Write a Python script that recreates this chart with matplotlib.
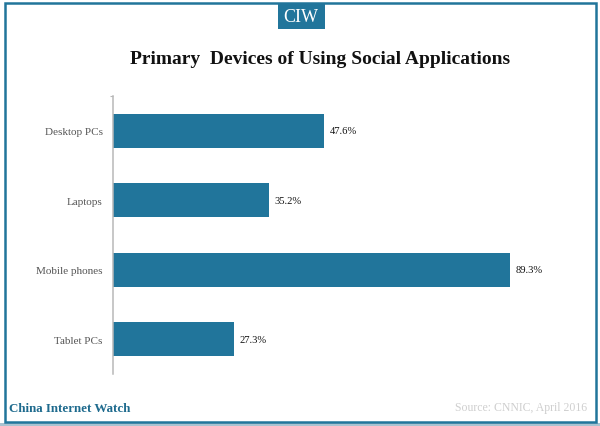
import matplotlib
matplotlib.use("Agg")
import matplotlib.pyplot as plt
from matplotlib.patches import Rectangle

categories = ["Desktop PCs", "Laptops", "Mobile phones", "Tablet PCs"]
values = [47.6, 35.2, 89.3, 27.3]
labels = ["47.6%", "35.2%", "89.3%", "27.3%"]

W, H = 600, 427
blue = "#21759b"
plt.rcParams["font.family"] = ["Liberation Serif", "DejaVu Serif"]

fig = plt.figure(figsize=(W / 100, H / 100), dpi=100)

# outer frame, soft shadow under it, CIW tab on top (all behind the axes)
fig.add_artist(Rectangle((0, 0), 1, 3 / H, transform=fig.transFigure, fc="#a9c3d1", ec="none", zorder=-3))
fig.add_artist(Rectangle((4.5 / W, 1 - 422.5 / H), 591 / W, 418.5 / H, transform=fig.transFigure,
                         fc="white", ec=blue, lw=1.8, zorder=-2))
fig.add_artist(Rectangle((277.5 / W, 1 - 30 / H), 47.5 / W, 26 / H, transform=fig.transFigure,
                         fc=blue, ec="none", zorder=-1))
fig.text(300.5 / W, 1 - 17 / H, "CIW", color="white", fontsize=13, ha="center", va="center")

fig.text(320 / W, 1 - 59.5 / H, "Primary  Devices of Using Social Applications", color="#111111",
         fontsize=14, fontweight="bold", ha="center", va="center")

ax = fig.add_axes([112.5 / W, 1 - 375 / H, 445 / W, 278 / H])
ax.patch.set_alpha(0)
ax.barh(categories, values, height=0.49, color=blue)
ax.set_xlim(0, 100)
ax.set_ylim(3.5, -0.5)
for i, v in enumerate(values):
    ax.annotate(labels[i], (v, i), xytext=(4, 0), textcoords="offset points",
                va="center", fontsize=7.6, color="#111111")

ax.xaxis.set_visible(False)
for s in ["top", "right", "bottom"]:
    ax.spines[s].set_visible(False)
ax.spines["left"].set_color("#b8b8b8")
ax.spines["left"].set_linewidth(1.1)
ax.tick_params(axis="y", length=0, pad=7, labelsize=8, labelcolor="#555555")
# small tick at the top end of the axis only
ax.set_yticks([-0.5], minor=True)
ax.tick_params(axis="y", which="minor", length=2.5, width=0.8, color="#b8b8b8")

fig.text(9 / W, 1 - 409 / H, "China Internet Watch", color="#1f6b8e", fontsize=9.4,
         fontweight="bold", ha="left", va="center")
fig.text(587 / W, 1 - 408 / H, "Source: CNNIC, April 2016", color="#cfcfcf", fontsize=8.5,
         ha="right", va="center")

fig.savefig("out.png", dpi=100)
